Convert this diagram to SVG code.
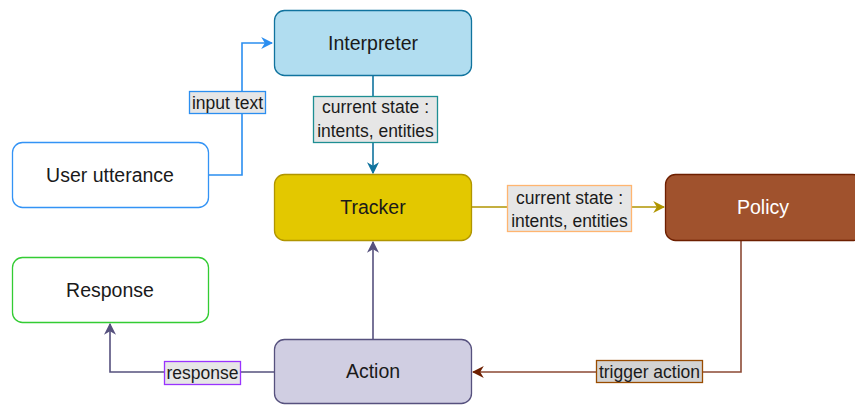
<svg xmlns="http://www.w3.org/2000/svg" width="855" height="405" viewBox="0 0 855 405">
  <style>
    .node { stroke-width: 1.3; }
    .ntext { font-family: "Liberation Sans", Arial, sans-serif; font-size: 19.5px; text-anchor: middle; dominant-baseline: central; fill: #1a1a1a; }
    .edge { fill: none; stroke-width: 1.6; }
    .lbl { font-family: "Liberation Sans", Arial, sans-serif; font-size: 17.5px; text-anchor: middle; fill: #1a1a1a; }
    .lblbox { fill: #e6e6e6; stroke-width: 1.3; }
  </style>
  <defs>
    <marker id="arBlue" viewBox="0 0 10 10" refX="9" refY="5" markerWidth="12" markerHeight="12" markerUnits="userSpaceOnUse" orient="auto">
      <path d="M0,0 L10,5 L0,10 L3,5 Z" fill="#2b8ef0"/>
    </marker>
    <marker id="arTeal" viewBox="0 0 10 10" refX="9" refY="5" markerWidth="12" markerHeight="12" markerUnits="userSpaceOnUse" orient="auto">
      <path d="M0,0 L10,5 L0,10 L3,5 Z" fill="#10739e"/>
    </marker>
    <marker id="arGold" viewBox="0 0 10 10" refX="9" refY="5" markerWidth="12" markerHeight="12" markerUnits="userSpaceOnUse" orient="auto">
      <path d="M0,0 L10,5 L0,10 L3,5 Z" fill="#b09500"/>
    </marker>
    <marker id="arBrown" viewBox="0 0 10 10" refX="9" refY="5" markerWidth="12" markerHeight="12" markerUnits="userSpaceOnUse" orient="auto">
      <path d="M0,0 L10,5 L0,10 L3,5 Z" fill="#6d1f00"/>
    </marker>
    <marker id="arPurple" viewBox="0 0 10 10" refX="9" refY="5" markerWidth="12" markerHeight="12" markerUnits="userSpaceOnUse" orient="auto">
      <path d="M0,0 L10,5 L0,10 L3,5 Z" fill="#56517e"/>
    </marker>
  </defs>

  <!-- connectors -->
  <g id="connectors">
    <path class="edge" d="M209,175 H242 V43 H272" stroke="#2b8ef0" marker-end="url(#arBlue)"/>
    <path class="edge" d="M373,76 V173" stroke="#10739e" marker-end="url(#arTeal)"/>
    <path class="edge" d="M472,207 H664" stroke="#b09500" marker-end="url(#arGold)"/>
    <path class="edge" d="M741,241 V372 H473" stroke="#8c4a35" marker-end="url(#arBrown)"/>
    <path class="edge" d="M373,339 V242" stroke="#56517e" marker-end="url(#arPurple)"/>
    <path class="edge" d="M274,372 H110 V324" stroke="#56517e" marker-end="url(#arPurple)"/>

    <g id="label-input-text">
      <rect class="lblbox" x="189.5" y="91.5" width="76" height="22" stroke="#2b8ef0"/>
      <text class="lbl" x="227.5" y="108.5">input text</text>
    </g>
    <g id="label-state-1">
      <rect class="lblbox" x="313.5" y="96.5" width="124" height="46" stroke="#1e8e93"/>
      <text class="lbl" x="375.5" y="113">current state :</text>
      <text class="lbl" x="375.5" y="137">intents, entities</text>
    </g>
    <g id="label-state-2">
      <rect class="lblbox" x="507.5" y="185.5" width="124" height="46" stroke="#ffb570"/>
      <text class="lbl" x="569.5" y="204">current state :</text>
      <text class="lbl" x="569.5" y="227">intents, entities</text>
    </g>
    <g id="label-trigger">
      <rect x="596.5" y="360.5" width="106" height="22" fill="#d3d3d3" stroke="#994c00" stroke-width="1.3"/>
      <text class="lbl" x="649.5" y="378">trigger action</text>
    </g>
    <g id="label-response">
      <rect class="lblbox" x="164.5" y="361.5" width="76" height="23" stroke="#9933ff"/>
      <text class="lbl" x="202.5" y="379">response</text>
    </g>
  </g>

  <g id="interpreter">
    <rect class="node" x="274.5" y="10.5" width="197" height="65" rx="10" fill="#b1ddf0" stroke="#10739e"/>
    <text class="ntext" x="373" y="43">Interpreter</text>
  </g>
  <g id="user-utterance">
    <rect class="node" x="12.5" y="142.5" width="196" height="65" rx="10" fill="#ffffff" stroke="#3393f5"/>
    <text class="ntext" x="110" y="175">User utterance</text>
  </g>
  <g id="tracker">
    <rect class="node" x="274.5" y="174.5" width="197" height="66" rx="10" fill="#e3c800" stroke="#b09500"/>
    <text class="ntext" x="373" y="207">Tracker</text>
  </g>
  <g id="policy">
    <rect class="node" x="665.5" y="174.5" width="197" height="66" rx="10" fill="#a0522d" stroke="#6d1f00"/>
    <text class="ntext" x="763" y="207" style="fill:#ffffff">Policy</text>
  </g>
  <g id="response">
    <rect class="node" x="12.5" y="257.5" width="196" height="65" rx="10" fill="#ffffff" stroke="#33cc33"/>
    <text class="ntext" x="110" y="290">Response</text>
  </g>
  <g id="action">
    <rect class="node" x="274.5" y="339.5" width="197" height="64" rx="10" fill="#d0cee2" stroke="#56517e"/>
    <text class="ntext" x="373" y="371">Action</text>
  </g>
</svg>
